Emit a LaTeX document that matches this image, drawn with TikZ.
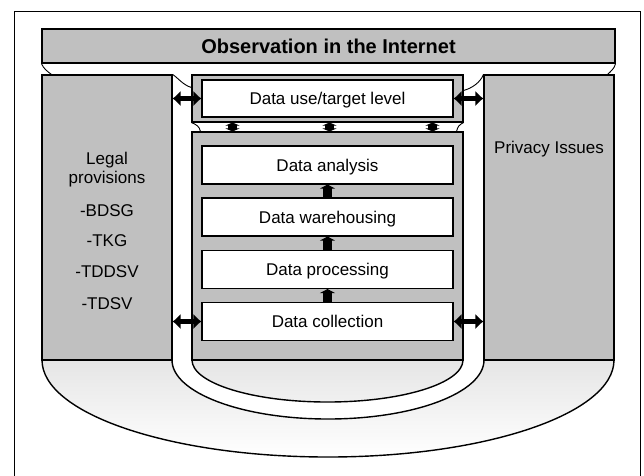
\documentclass[tikz,border=0pt]{standalone}
\usepackage{fontspec}
\setmainfont{Liberation Sans}
\usetikzlibrary{arrows.meta}
\definecolor{boxgray}{HTML}{C0C0C0}
\begin{document}
\begin{tikzpicture}[x=1pt,y=-1pt,
  box/.style={draw, line width=1.1pt, fill=boxgray, inner sep=0pt},
  wbox/.style={draw, line width=1.1pt, fill=white, minimum width=251pt, minimum height=38pt, inner sep=0pt, font=\fontsize{17}{19}\selectfont, text height=12pt, text depth=0pt},
  lbl/.style={inner sep=0pt, font=\fontsize{17}{19}\selectfont, text height=12pt, text depth=0pt},
  harrow/.style={line width=5pt, {Latex[length=8pt,width=16pt]}-{Latex[length=8pt,width=16pt]}},
  uarrow/.style={line width=9pt, -{Triangle[length=4pt,width=15pt]}},
  ibeam/.style={line width=8.5pt, {Triangle[length=3pt,width=14pt]}-{Triangle[length=3pt,width=14pt]}},
  joint/.style={line width=0.9pt},
  bowl/.style={line width=1.4pt}]
\useasboundingbox (0,0) rectangle (644,475);
% outer frame
\draw[line width=1pt] (14,477) -- (14,11) -- (640.5,11) -- (640.5,477);
% bowl
\shade[top color=gray!20, bottom color=white]
  (42,360) .. controls (42,413.6) and (170,457) .. (328,457) .. controls (486,457) and (614,413.6) .. (614,360) -- cycle;
\fill[white, even odd rule]
  (172,360) .. controls (172,392.6) and (241.8,419) .. (328,419) .. controls (414.2,419) and (484,392.6) .. (484,360) -- cycle
  (192,360) .. controls (192,383.2) and (252.7,402) .. (327.5,402) .. controls (402.3,402) and (463,383.2) .. (463,360) -- cycle;
\draw[bowl] (42,360) .. controls (42,413.6) and (170,457) .. (328,457) .. controls (486,457) and (614,413.6) .. (614,360);
\draw[bowl] (172,360) .. controls (172,392.6) and (241.8,419) .. (328,419) .. controls (414.2,419) and (484,392.6) .. (484,360);
\draw[bowl] (192,360) .. controls (192,383.2) and (252.7,402) .. (327.5,402) .. controls (402.3,402) and (463,383.2) .. (463,360);
% boxes
\node[box, minimum width=573pt, minimum height=34pt, font=\bfseries\fontsize{20}{24}\selectfont, text height=14pt, text depth=0pt] (banner) at (328.5,46) {Observation in the Internet};
\node[box, minimum width=130pt, minimum height=285pt] (legal) at (107,217.5) {};
\node[box, minimum width=130pt, minimum height=285pt] (priv) at (549,217.5) {};
\node[box, minimum width=271pt, minimum height=47pt] (mtop) at (327.5,98.5) {};
\node[box, minimum width=271pt, minimum height=228pt] (mlow) at (327.5,246) {};
\node[wbox, minimum height=37pt] (use) at (327.5,98.5) {Data use/target level};
\node[wbox] (ana) at (327.5,165) {Data analysis};
\node[wbox] (ware) at (327.5,217) {Data warehousing};
\node[wbox] (proc) at (327.5,269.5) {Data processing};
\node[wbox] (coll) at (327.5,321.5) {Data collection};
% labels
\node[lbl] (lg1) at (107,158) {Legal};
\node[lbl] (lg2) at (107,177) {provisions};
\node[lbl] (lg3) at (107,210) {-BDSG};
\node[lbl] (lg4) at (107,240) {-TKG};
\node[lbl] (lg5) at (107,271) {-TDDSV};
\node[lbl] (lg6) at (107,303) {-TDSV};
\node[lbl] (pi) at (549,147) {Privacy Issues};
% joints
\draw[joint] (banner.south west) .. controls +(2,5) and +(-4,-3) .. ([xshift=10pt]legal.north west);
\draw[joint] (banner.south east) .. controls +(-1,5) and +(3,-3) .. ([xshift=-7pt]priv.north east);
\draw[joint] (legal.north east) .. controls +(5,3) and +(-8,-2) .. ([yshift=-13pt]mtop.north west);
\draw[joint] (priv.north west) .. controls +(-3,8) and +(8,-2) .. ([yshift=-16pt]mtop.north east);
\draw[joint] (mtop.south west) .. controls +(5,2) and +(-1,-5) .. ([xshift=9pt]mlow.north west);
\draw[joint] (mtop.south east) .. controls +(-4,2) and +(1,-5) .. ([xshift=-7pt]mlow.north east);
% arrows
\draw[harrow] (legal.east |- use.west) -- (use.west);
\draw[harrow] (use.east) -- (priv.west |- use.east);
\draw[harrow] (legal.east |- coll.west) -- (coll.west);
\draw[harrow] (coll.east) -- (priv.west |- coll.east);
\draw[uarrow] (coll.north) -- (proc.south);
\draw[uarrow] (proc.north) -- (ware.south);
\draw[uarrow] (ware.north) -- (ana.south);
\draw[ibeam] ([xshift=-95pt]mtop.south) -- ([xshift=-95pt]mlow.north);
\draw[ibeam] ([xshift=2pt]mtop.south) -- ([xshift=2pt]mlow.north);
\draw[ibeam] ([xshift=105pt]mtop.south) -- ([xshift=105pt]mlow.north);
\end{tikzpicture}
\end{document}
